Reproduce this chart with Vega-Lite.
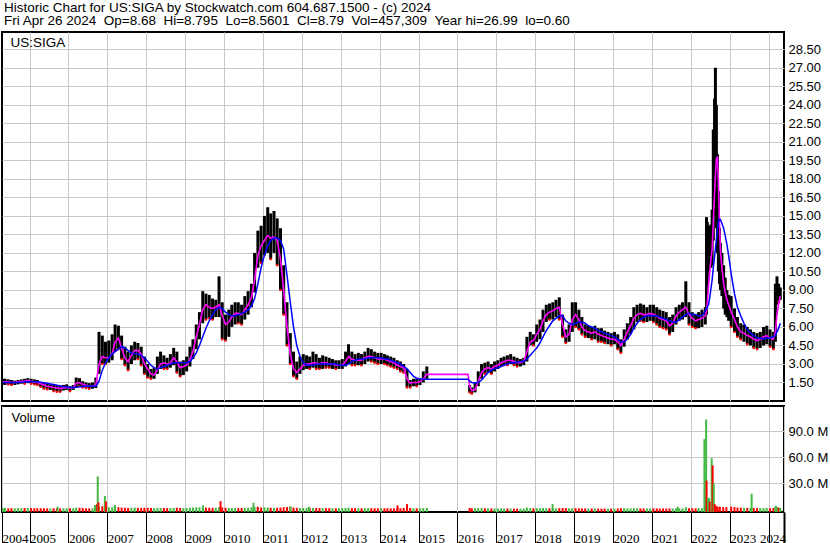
{
"$schema":"https://vega.github.io/schema/vega-lite/v6.json",
"padding":{"left":0,"top":1,"right":0,"bottom":0},
"autosize":{"type":"pad"},
"background":"white",
"config":{
 "font":"Liberation Sans",
 "view":{"stroke":"black","strokeWidth":2},
 "axis":{"labelFont":"Liberation Sans","labelColor":"#000","labelFontSize":13,"gridColor":"#c8c8c8","gridWidth":1,"gridOpacity":1,"titleFont":"Liberation Sans","titleColor":"#000","titleFontWeight":"normal"},
 "title":{"font":"Liberation Sans","color":"#000","fontWeight":"normal","fontSize":13.5}
},
"title":{"text":["Historic Chart for US:SIGA by Stockwatch.com 604.687.1500 - (c) 2024","Fri Apr 26 2024 \u00a0Op=8.68 \u00a0Hi=8.795 \u00a0Lo=8.5601 \u00a0Cl=8.79 \u00a0Vol=457,309 \u00a0Year hi=26.99 \u00a0lo=0.60"],"anchor":"start","frame":"group","fontSize":13.5,"lineHeight":13.3,"offset":3,"dx":2,"baseline":"top"},
"datasets":{
"p":[
{"d":"2004-04-25","h":1.8,"l":1.35,"m":1.55,"b":1.5,"v":1.4,"u":1},
{"d":"2004-05-15","h":1.8,"l":1.3,"m":1.55,"b":1.5,"v":1.5,"u":1},
{"d":"2004-06-15","h":1.75,"l":1.35,"m":1.55,"b":1.5,"v":1.2,"u":0},
{"d":"2004-07-15","h":1.7,"l":1.3,"m":1.5,"b":1.5,"v":1.3,"u":0},
{"d":"2004-08-15","h":1.65,"l":1.3,"m":1.5,"b":1.5,"v":1.2,"u":1},
{"d":"2004-09-15","h":1.7,"l":1.35,"m":1.55,"b":1.5,"v":1.4,"u":1},
{"d":"2004-10-15","h":1.75,"l":1.4,"m":1.6,"b":1.52,"v":1.3,"u":1},
{"d":"2004-11-15","h":1.8,"l":1.4,"m":1.6,"b":1.54,"v":1.5,"u":0},
{"d":"2004-12-15","h":1.85,"l":1.45,"m":1.65,"b":1.56,"v":1.6,"u":1},
{"d":"2005-01-15","h":1.8,"l":1.4,"m":1.6,"b":1.56,"v":1.4,"u":0},
{"d":"2005-02-15","h":1.75,"l":1.35,"m":1.55,"b":1.56,"v":1.3,"u":0},
{"d":"2005-03-15","h":1.7,"l":1.3,"m":1.5,"b":1.55,"v":1.2,"u":0},
{"d":"2005-04-15","h":1.55,"l":1.15,"m":1.4,"b":1.52,"v":1.3,"u":0},
{"d":"2005-05-15","h":1.45,"l":1.0,"m":1.3,"b":1.48,"v":1.2,"u":0},
{"d":"2005-06-15","h":1.4,"l":0.95,"m":1.2,"b":1.43,"v":1.1,"u":0},
{"d":"2005-07-15","h":1.35,"l":0.9,"m":1.15,"b":1.38,"v":1.0,"u":1},
{"d":"2005-08-15","h":1.3,"l":0.8,"m":1.1,"b":1.33,"v":1.2,"u":0},
{"d":"2005-09-15","h":1.3,"l":0.75,"m":1.05,"b":1.28,"v":1.3,"u":0},
{"d":"2005-10-15","h":1.25,"l":0.75,"m":1.0,"b":1.22,"v":1.1,"u":0},
{"d":"2005-11-15","h":1.3,"l":0.85,"m":1.05,"b":1.17,"v":1.2,"u":1},
{"d":"2005-12-15","h":1.35,"l":0.9,"m":1.1,"b":1.13,"v":1.3,"u":1},
{"d":"2006-01-15","h":1.2,"l":0.8,"m":1.05,"b":1.12,"v":1.2,"u":0},
{"d":"2006-02-15","h":1.3,"l":0.9,"m":1.1,"b":1.1,"v":1.3,"u":1},
{"d":"2006-03-15","h":1.9,"l":1.1,"m":1.45,"b":1.12,"v":2.0,"u":1},
{"d":"2006-04-15","h":1.85,"l":1.2,"m":1.5,"b":1.15,"v":1.8,"u":0},
{"d":"2006-05-15","h":1.6,"l":1.1,"m":1.35,"b":1.18,"v":1.5,"u":0},
{"d":"2006-06-15","h":1.5,"l":1.05,"m":1.28,"b":1.2,"v":1.2,"u":0},
{"d":"2006-07-15","h":1.45,"l":1.0,"m":1.22,"b":1.21,"v":1.1,"u":0},
{"d":"2006-08-15","h":1.5,"l":1.0,"m":1.2,"b":1.2,"v":1.2,"u":1},
{"d":"2006-09-15","h":1.9,"l":1.05,"m":1.3,"b":1.2,"v":2.5,"u":1},
{"d":"2006-10-15","h":5.6,"l":2.2,"m":3.0,"b":1.6,"v":3.0,"u":1},
{"d":"2006-11-15","h":5.3,"l":3.0,"m":3.6,"b":2.5,"v":3.5,"u":0},
{"d":"2006-12-15","h":4.8,"l":3.0,"m":3.5,"b":3.1,"v":3.0,"u":0},
{"d":"2007-01-15","h":4.9,"l":3.1,"m":3.5,"b":3.5,"v":2.5,"u":1},
{"d":"2007-02-15","h":5.4,"l":3.3,"m":3.8,"b":3.8,"v":2.2,"u":1},
{"d":"2007-03-15","h":6.2,"l":4.0,"m":4.8,"b":4.0,"v":2.8,"u":1},
{"d":"2007-04-15","h":6.1,"l":4.2,"m":5.1,"b":4.2,"v":2.4,"u":0},
{"d":"2007-05-15","h":5.3,"l":3.4,"m":4.3,"b":4.4,"v":2.0,"u":0},
{"d":"2007-06-15","h":4.4,"l":2.9,"m":3.5,"b":4.3,"v":1.8,"u":0},
{"d":"2007-07-15","h":4.0,"l":2.5,"m":3.2,"b":4.1,"v":1.6,"u":0},
{"d":"2007-08-15","h":4.5,"l":3.0,"m":3.7,"b":3.9,"v":1.8,"u":1},
{"d":"2007-09-15","h":4.8,"l":3.3,"m":4.1,"b":3.8,"v":2.0,"u":1},
{"d":"2007-10-15","h":4.7,"l":3.4,"m":4.1,"b":3.8,"v":1.7,"u":0},
{"d":"2007-11-15","h":4.4,"l":2.9,"m":3.8,"b":3.7,"v":1.6,"u":0},
{"d":"2007-12-15","h":3.6,"l":2.2,"m":3.0,"b":3.5,"v":1.8,"u":0},
{"d":"2008-01-15","h":3.0,"l":1.9,"m":2.6,"b":3.2,"v":1.7,"u":0},
{"d":"2008-02-15","h":2.6,"l":1.8,"m":2.2,"b":2.9,"v":1.5,"u":0},
{"d":"2008-03-15","h":2.7,"l":1.8,"m":2.1,"b":2.7,"v":1.4,"u":1},
{"d":"2008-04-15","h":3.6,"l":2.2,"m":2.5,"b":2.6,"v":1.8,"u":1},
{"d":"2008-05-15","h":4.0,"l":2.6,"m":3.0,"b":2.7,"v":1.6,"u":1},
{"d":"2008-06-15","h":3.7,"l":2.6,"m":3.1,"b":2.8,"v":1.5,"u":0},
{"d":"2008-07-15","h":3.5,"l":2.6,"m":3.0,"b":2.9,"v":1.4,"u":0},
{"d":"2008-08-15","h":3.8,"l":2.7,"m":3.1,"b":3.0,"v":1.5,"u":1},
{"d":"2008-09-15","h":4.3,"l":2.9,"m":3.5,"b":3.1,"v":1.6,"u":1},
{"d":"2008-10-15","h":4.0,"l":2.3,"m":3.2,"b":3.1,"v":1.8,"u":0},
{"d":"2008-11-15","h":3.2,"l":2.0,"m":2.7,"b":3.1,"v":1.5,"u":0},
{"d":"2008-12-15","h":3.3,"l":2.1,"m":2.8,"b":3.1,"v":1.4,"u":1},
{"d":"2009-01-15","h":3.6,"l":2.4,"m":2.9,"b":3.1,"v":1.5,"u":1},
{"d":"2009-02-15","h":4.4,"l":2.8,"m":3.4,"b":3.2,"v":1.8,"u":1},
{"d":"2009-03-15","h":5.0,"l":3.4,"m":4.0,"b":3.5,"v":2.0,"u":1},
{"d":"2009-04-15","h":6.2,"l":4.2,"m":5.2,"b":3.9,"v":2.2,"u":1},
{"d":"2009-05-15","h":7.2,"l":5.0,"m":6.2,"b":4.5,"v":2.4,"u":1},
{"d":"2009-06-15","h":8.9,"l":6.3,"m":7.4,"b":5.2,"v":2.5,"u":1},
{"d":"2009-07-15","h":8.7,"l":6.6,"m":7.8,"b":5.9,"v":2.0,"u":0},
{"d":"2009-08-15","h":8.6,"l":6.7,"m":7.6,"b":6.5,"v":1.8,"u":0},
{"d":"2009-09-15","h":8.3,"l":6.6,"m":7.5,"b":7.0,"v":1.7,"u":0},
{"d":"2009-10-15","h":8.2,"l":6.8,"m":7.6,"b":7.4,"v":1.8,"u":1},
{"d":"2009-11-15","h":10.1,"l":6.8,"m":7.8,"b":7.6,"v":2.5,"u":1},
{"d":"2009-12-15","h":8.0,"l":5.0,"m":6.9,"b":7.5,"v":2.2,"u":0},
{"d":"2010-01-15","h":7.0,"l":4.9,"m":6.2,"b":7.2,"v":1.8,"u":0},
{"d":"2010-02-15","h":7.4,"l":5.2,"m":6.4,"b":7.0,"v":1.6,"u":1},
{"d":"2010-03-15","h":7.8,"l":6.0,"m":6.8,"b":6.9,"v":1.5,"u":1},
{"d":"2010-04-15","h":8.0,"l":6.2,"m":7.1,"b":6.9,"v":1.6,"u":1},
{"d":"2010-05-15","h":8.0,"l":6.3,"m":7.1,"b":7.0,"v":1.4,"u":0},
{"d":"2010-06-15","h":7.8,"l":6.2,"m":7.0,"b":7.1,"v":1.5,"u":0},
{"d":"2010-07-15","h":8.5,"l":6.6,"m":7.4,"b":7.2,"v":1.6,"u":1},
{"d":"2010-08-15","h":8.9,"l":7.0,"m":7.8,"b":7.4,"v":1.8,"u":1},
{"d":"2010-09-15","h":9.5,"l":7.6,"m":8.4,"b":7.7,"v":2.2,"u":1},
{"d":"2010-10-15","h":12.0,"l":8.8,"m":9.8,"b":8.3,"v":2.6,"u":1},
{"d":"2010-11-15","h":13.8,"l":10.8,"m":11.8,"b":9.5,"v":2.4,"u":1},
{"d":"2010-12-15","h":14.2,"l":11.2,"m":12.6,"b":10.8,"v":2.0,"u":0},
{"d":"2011-01-15","h":15.0,"l":11.8,"m":13.0,"b":11.8,"v":2.2,"u":1},
{"d":"2011-02-15","h":15.7,"l":12.0,"m":13.4,"b":12.6,"v":2.0,"u":1},
{"d":"2011-03-15","h":15.2,"l":11.5,"m":13.2,"b":13.0,"v":1.8,"u":0},
{"d":"2011-04-15","h":15.4,"l":12.0,"m":13.3,"b":13.2,"v":1.7,"u":1},
{"d":"2011-05-15","h":14.8,"l":11.0,"m":13.0,"b":13.2,"v":1.8,"u":0},
{"d":"2011-06-15","h":14.0,"l":9.0,"m":11.5,"b":13.0,"v":2.0,"u":0},
{"d":"2011-07-15","h":11.0,"l":7.0,"m":9.0,"b":12.3,"v":2.4,"u":0},
{"d":"2011-08-15","h":8.0,"l":4.5,"m":6.0,"b":10.2,"v":2.6,"u":0},
{"d":"2011-09-15","h":5.5,"l":3.0,"m":3.8,"b":8.0,"v":2.5,"u":0},
{"d":"2011-10-15","h":4.0,"l":2.0,"m":2.6,"b":6.0,"v":2.0,"u":0},
{"d":"2011-11-15","h":3.2,"l":1.8,"m":2.3,"b":4.5,"v":1.8,"u":0},
{"d":"2011-12-15","h":3.6,"l":2.2,"m":2.6,"b":3.6,"v":1.6,"u":1},
{"d":"2012-01-15","h":3.8,"l":2.5,"m":2.9,"b":3.1,"v":1.6,"u":1},
{"d":"2012-02-15","h":3.7,"l":2.6,"m":3.0,"b":2.9,"v":1.5,"u":1},
{"d":"2012-03-15","h":3.6,"l":2.6,"m":3.0,"b":2.9,"v":1.5,"u":0},
{"d":"2012-04-15","h":4.0,"l":2.7,"m":3.1,"b":2.9,"v":1.7,"u":1},
{"d":"2012-05-15","h":3.8,"l":2.6,"m":3.1,"b":3.0,"v":1.5,"u":0},
{"d":"2012-06-15","h":3.5,"l":2.6,"m":3.0,"b":3.0,"v":1.4,"u":0},
{"d":"2012-07-15","h":3.7,"l":2.6,"m":3.1,"b":3.0,"v":1.5,"u":1},
{"d":"2012-08-15","h":3.6,"l":2.7,"m":3.1,"b":3.0,"v":1.4,"u":0},
{"d":"2012-09-15","h":3.5,"l":2.7,"m":3.0,"b":3.0,"v":1.3,"u":0},
{"d":"2012-10-15","h":3.4,"l":2.6,"m":3.0,"b":3.0,"v":1.3,"u":1},
{"d":"2012-11-15","h":3.3,"l":2.6,"m":2.9,"b":3.0,"v":1.2,"u":0},
{"d":"2012-12-15","h":3.3,"l":2.6,"m":2.9,"b":2.9,"v":1.2,"u":1},
{"d":"2013-01-15","h":3.4,"l":2.6,"m":2.9,"b":2.9,"v":1.3,"u":1},
{"d":"2013-02-15","h":4.0,"l":2.8,"m":3.2,"b":2.9,"v":1.6,"u":1},
{"d":"2013-03-15","h":4.6,"l":3.0,"m":3.6,"b":3.0,"v":1.8,"u":1},
{"d":"2013-04-15","h":4.0,"l":2.9,"m":3.4,"b":3.2,"v":1.4,"u":0},
{"d":"2013-05-15","h":3.8,"l":2.9,"m":3.3,"b":3.3,"v":1.3,"u":0},
{"d":"2013-06-15","h":3.9,"l":2.9,"m":3.3,"b":3.4,"v":1.3,"u":1},
{"d":"2013-07-15","h":3.8,"l":2.9,"m":3.3,"b":3.4,"v":1.2,"u":0},
{"d":"2013-08-15","h":4.0,"l":3.0,"m":3.5,"b":3.4,"v":1.3,"u":1},
{"d":"2013-09-15","h":4.3,"l":3.2,"m":3.6,"b":3.5,"v":1.4,"u":1},
{"d":"2013-10-15","h":4.2,"l":3.2,"m":3.6,"b":3.5,"v":1.3,"u":0},
{"d":"2013-11-15","h":4.0,"l":3.1,"m":3.5,"b":3.5,"v":1.2,"u":0},
{"d":"2013-12-15","h":3.9,"l":3.0,"m":3.4,"b":3.5,"v":1.2,"u":0},
{"d":"2014-01-15","h":3.9,"l":3.0,"m":3.4,"b":3.5,"v":1.3,"u":1},
{"d":"2014-02-15","h":3.8,"l":3.0,"m":3.4,"b":3.4,"v":1.2,"u":0},
{"d":"2014-03-15","h":3.7,"l":2.9,"m":3.3,"b":3.4,"v":1.2,"u":0},
{"d":"2014-04-15","h":3.6,"l":2.8,"m":3.2,"b":3.3,"v":1.1,"u":0},
{"d":"2014-05-15","h":3.5,"l":2.7,"m":3.1,"b":3.2,"v":1.2,"u":0},
{"d":"2014-06-15","h":3.3,"l":2.6,"m":2.9,"b":3.1,"v":1.4,"u":0},
{"d":"2014-07-15","h":3.2,"l":2.4,"m":2.8,"b":3.0,"v":1.3,"u":0},
{"d":"2014-08-15","h":3.0,"l":2.3,"m":2.7,"b":2.8,"v":1.5,"u":0},
{"d":"2014-09-15","h":2.6,"l":1.1,"m":1.8,"b":2.6,"v":2.5,"u":0},
{"d":"2014-10-15","h":1.7,"l":1.1,"m":1.45,"b":2.3,"v":1.5,"u":0},
{"d":"2014-11-15","h":1.8,"l":1.2,"m":1.5,"b":2.0,"v":1.2,"u":1},
{"d":"2014-12-15","h":1.8,"l":1.2,"m":1.5,"b":1.85,"v":1.1,"u":0},
{"d":"2015-01-15","h":1.8,"l":1.3,"m":1.55,"b":1.8,"v":1.2,"u":1},
{"d":"2015-02-15","h":2.4,"l":1.5,"m":1.8,"b":1.78,"v":1.5,"u":1},
{"d":"2015-03-20","h":2.8,"l":1.8,"m":2.16,"b":1.76,"v":1.6,"u":1},
{"d":"2016-04-10","m":2.16,"b":1.76},
{"d":"2016-04-25","h":1.3,"l":0.7,"m":1.2,"b":1.6,"v":1.5,"u":0},
{"d":"2016-05-15","h":1.1,"l":0.6,"m":0.85,"b":1.5,"v":1.2,"u":0},
{"d":"2016-06-15","h":1.5,"l":0.7,"m":0.9,"b":1.45,"v":1.3,"u":1},
{"d":"2016-07-15","h":2.4,"l":1.2,"m":1.6,"b":1.5,"v":1.6,"u":1},
{"d":"2016-08-15","h":3.0,"l":1.8,"m":2.3,"b":1.7,"v":1.5,"u":1},
{"d":"2016-09-15","h":3.1,"l":2.2,"m":2.6,"b":2.0,"v":1.2,"u":0},
{"d":"2016-10-15","h":3.2,"l":2.3,"m":2.7,"b":2.3,"v":1.1,"u":1},
{"d":"2016-11-15","h":3.0,"l":2.2,"m":2.6,"b":2.5,"v":1.0,"u":0},
{"d":"2016-12-15","h":3.2,"l":2.4,"m":2.8,"b":2.6,"v":1.0,"u":1},
{"d":"2017-01-15","h":3.3,"l":2.6,"m":2.9,"b":2.7,"v":1.0,"u":1},
{"d":"2017-02-15","h":3.5,"l":2.8,"m":3.1,"b":2.8,"v":1.0,"u":1},
{"d":"2017-03-15","h":3.6,"l":2.9,"m":3.2,"b":2.9,"v":0.9,"u":1},
{"d":"2017-04-15","h":3.7,"l":2.9,"m":3.3,"b":3.0,"v":1.0,"u":0},
{"d":"2017-05-15","h":3.8,"l":3.0,"m":3.3,"b":3.1,"v":0.9,"u":1},
{"d":"2017-06-15","h":3.6,"l":2.9,"m":3.2,"b":3.1,"v":0.8,"u":0},
{"d":"2017-07-15","h":3.5,"l":2.8,"m":3.1,"b":3.15,"v":0.8,"u":0},
{"d":"2017-08-15","h":3.4,"l":2.8,"m":3.1,"b":3.2,"v":0.8,"u":1},
{"d":"2017-09-15","h":3.5,"l":2.9,"m":3.2,"b":3.2,"v":0.9,"u":1},
{"d":"2017-10-15","h":5.2,"l":3.2,"m":4.0,"b":3.4,"v":2.0,"u":1},
{"d":"2017-11-15","h":5.6,"l":4.5,"m":4.8,"b":3.7,"v":1.5,"u":1},
{"d":"2017-12-15","h":5.4,"l":4.5,"m":4.9,"b":4.0,"v":1.2,"u":0},
{"d":"2018-01-15","h":6.2,"l":4.8,"m":5.4,"b":4.3,"v":1.4,"u":1},
{"d":"2018-02-15","h":6.6,"l":5.0,"m":5.8,"b":4.7,"v":1.3,"u":1},
{"d":"2018-03-15","h":7.4,"l":5.6,"m":6.5,"b":5.2,"v":1.5,"u":1},
{"d":"2018-04-15","h":7.8,"l":6.4,"m":7.0,"b":5.7,"v":1.3,"u":1},
{"d":"2018-05-15","h":7.9,"l":6.6,"m":7.2,"b":6.1,"v":1.2,"u":0},
{"d":"2018-06-15","h":8.0,"l":6.6,"m":7.3,"b":6.5,"v":1.4,"u":1},
{"d":"2018-07-15","h":8.2,"l":6.8,"m":7.5,"b":6.7,"v":1.2,"u":1},
{"d":"2018-08-15","h":8.4,"l":6.6,"m":7.6,"b":6.9,"v":1.3,"u":0},
{"d":"2018-09-15","h":7.0,"l":5.2,"m":6.2,"b":6.9,"v":1.5,"u":0},
{"d":"2018-10-15","h":5.8,"l":4.7,"m":5.2,"b":6.5,"v":1.4,"u":0},
{"d":"2018-11-15","h":6.2,"l":4.8,"m":5.4,"b":6.3,"v":1.2,"u":1},
{"d":"2018-12-15","h":8.0,"l":5.6,"m":6.6,"b":6.2,"v":1.4,"u":1},
{"d":"2019-01-15","h":8.0,"l":6.0,"m":7.0,"b":6.3,"v":1.3,"u":0},
{"d":"2019-02-15","h":7.4,"l":5.8,"m":6.6,"b":6.4,"v":1.1,"u":0},
{"d":"2019-03-15","h":6.8,"l":5.4,"m":6.0,"b":6.4,"v":1.0,"u":0},
{"d":"2019-04-15","h":6.2,"l":5.2,"m":5.7,"b":6.3,"v":1.0,"u":0},
{"d":"2019-05-15","h":6.1,"l":5.1,"m":5.6,"b":6.1,"v":0.9,"u":1},
{"d":"2019-06-15","h":6.0,"l":5.0,"m":5.5,"b":6.0,"v":0.9,"u":0},
{"d":"2019-07-15","h":6.1,"l":5.0,"m":5.6,"b":5.9,"v":0.9,"u":1},
{"d":"2019-08-15","h":5.9,"l":4.8,"m":5.4,"b":5.7,"v":0.9,"u":0},
{"d":"2019-09-15","h":5.9,"l":4.8,"m":5.3,"b":5.6,"v":0.8,"u":0},
{"d":"2019-10-15","h":5.7,"l":4.7,"m":5.2,"b":5.5,"v":0.8,"u":0},
{"d":"2019-11-15","h":5.6,"l":4.6,"m":5.1,"b":5.4,"v":0.8,"u":1},
{"d":"2019-12-15","h":5.5,"l":4.5,"m":5.0,"b":5.3,"v":0.8,"u":0},
{"d":"2020-01-15","h":5.6,"l":4.6,"m":5.0,"b":5.2,"v":0.9,"u":1},
{"d":"2020-02-15","h":5.4,"l":4.2,"m":4.8,"b":5.0,"v":1.0,"u":0},
{"d":"2020-03-15","h":5.0,"l":3.9,"m":4.5,"b":4.8,"v":1.3,"u":0},
{"d":"2020-04-15","h":5.8,"l":4.4,"m":5.0,"b":4.8,"v":1.2,"u":1},
{"d":"2020-05-15","h":6.3,"l":5.0,"m":5.6,"b":5.0,"v":1.1,"u":1},
{"d":"2020-06-15","h":6.8,"l":5.4,"m":6.1,"b":5.4,"v":1.2,"u":1},
{"d":"2020-07-15","h":7.6,"l":5.8,"m":6.7,"b":5.9,"v":1.4,"u":1},
{"d":"2020-08-15","h":7.8,"l":6.4,"m":7.0,"b":6.3,"v":1.1,"u":1},
{"d":"2020-09-15","h":7.9,"l":6.5,"m":7.1,"b":6.6,"v":1.0,"u":0},
{"d":"2020-10-15","h":7.8,"l":6.4,"m":7.0,"b":6.8,"v":1.0,"u":0},
{"d":"2020-11-15","h":7.6,"l":6.4,"m":7.0,"b":6.9,"v":0.9,"u":1},
{"d":"2020-12-15","h":7.8,"l":6.5,"m":7.1,"b":6.9,"v":1.0,"u":1},
{"d":"2021-01-15","h":7.8,"l":6.4,"m":7.0,"b":6.9,"v":1.0,"u":0},
{"d":"2021-02-15","h":7.6,"l":6.2,"m":6.9,"b":6.9,"v":1.0,"u":0},
{"d":"2021-03-15","h":7.4,"l":6.0,"m":6.7,"b":6.8,"v":0.9,"u":0},
{"d":"2021-04-15","h":7.3,"l":5.9,"m":6.6,"b":6.7,"v":0.9,"u":0},
{"d":"2021-05-15","h":7.2,"l":5.8,"m":6.5,"b":6.6,"v":0.9,"u":0},
{"d":"2021-06-15","h":6.8,"l":5.4,"m":6.1,"b":6.5,"v":1.0,"u":0},
{"d":"2021-07-15","h":7.0,"l":5.6,"m":6.3,"b":6.4,"v":1.0,"u":1},
{"d":"2021-08-15","h":7.6,"l":6.2,"m":6.9,"b":6.4,"v":1.1,"u":1},
{"d":"2021-09-15","h":7.8,"l":6.5,"m":7.2,"b":6.6,"v":1.0,"u":1},
{"d":"2021-10-15","h":8.0,"l":6.6,"m":7.4,"b":6.8,"v":1.1,"u":1},
{"d":"2021-11-15","h":9.7,"l":6.8,"m":7.6,"b":7.0,"v":2.5,"u":1},
{"d":"2021-12-15","h":8.0,"l":6.2,"m":7.0,"b":7.1,"v":1.2,"u":0},
{"d":"2022-01-15","h":7.2,"l":6.0,"m":6.7,"b":7.0,"v":1.2,"u":0},
{"d":"2022-02-15","h":7.0,"l":5.9,"m":6.5,"b":7.0,"v":1.1,"u":0},
{"d":"2022-03-15","h":7.2,"l":5.9,"m":6.6,"b":6.9,"v":1.5,"u":1},
{"d":"2022-04-15","h":7.4,"l":6.0,"m":6.7,"b":6.9,"v":1.3,"u":1},
{"d":"2022-05-17","h":7.6,"l":6.2,"m":6.9,"b":7.3,"v":2.0,"u":1},
{"d":"2022-05-28","h":14.9,"l":7.0,"m":7.3,"b":7.5,"v":3.0,"u":1},
{"d":"2022-06-05","h":14.5,"l":9.0,"m":8.0,"b":7.6},
{"d":"2022-06-16","h":14.2,"l":10.5,"m":9.3,"b":7.8},
{"d":"2022-06-28","h":14.0,"l":10.8,"m":10.5,"b":8.4},
{"d":"2022-07-09","h":14.3,"l":10.8,"m":11.5,"b":9.1},
{"d":"2022-07-20","h":15.5,"l":11.0,"m":12.3,"b":9.8},
{"d":"2022-07-31","h":22.0,"l":13.0,"m":14.5,"b":10.8},
{"d":"2022-08-12","h":24.5,"l":15.0,"m":16.8,"b":11.7},
{"d":"2022-08-20","h":27.0,"l":16.5,"m":18.3,"b":12.3},
{"d":"2022-08-29","h":24.0,"l":14.0,"m":19.6,"b":13.1},
{"d":"2022-09-08","h":20.0,"l":12.0,"m":19.8,"b":13.9},
{"d":"2022-09-17","h":17.0,"l":10.5,"m":17.8,"b":14.5},
{"d":"2022-09-27","h":14.0,"l":9.5,"m":14.5,"b":14.7},
{"d":"2022-10-06","h":12.8,"l":9.0,"m":12.2,"b":14.7},
{"d":"2022-10-20","h":12.0,"l":8.5,"m":10.8,"b":14.4},
{"d":"2022-11-05","h":11.0,"l":7.5,"m":9.5,"b":14.0},
{"d":"2022-11-20","h":10.0,"l":7.0,"m":8.8,"b":13.4},
{"d":"2022-12-06","h":9.0,"l":6.8,"m":8.2,"b":12.7},
{"d":"2022-12-22","h":8.6,"l":6.5,"m":7.8,"b":11.8},
{"d":"2023-01-15","h":8.5,"l":6.0,"m":7.2,"b":10.3,"v":3.0,"u":0},
{"d":"2023-02-15","h":7.5,"l":5.6,"m":6.6,"b":8.7,"v":2.5,"u":0},
{"d":"2023-03-15","h":6.8,"l":5.2,"m":6.0,"b":7.6,"v":2.0,"u":0},
{"d":"2023-04-15","h":6.3,"l":5.0,"m":5.6,"b":6.9,"v":2.0,"u":0},
{"d":"2023-05-15","h":6.2,"l":4.8,"m":5.5,"b":6.3,"v":1.8,"u":1},
{"d":"2023-06-15","h":6.0,"l":4.6,"m":5.3,"b":5.8,"v":1.6,"u":0},
{"d":"2023-07-15","h":5.8,"l":4.5,"m":5.2,"b":5.5,"v":1.8,"u":1},
{"d":"2023-08-15","h":5.6,"l":4.3,"m":5.0,"b":5.3,"v":1.5,"u":0},
{"d":"2023-09-15","h":5.5,"l":4.2,"m":4.9,"b":5.1,"v":1.4,"u":0},
{"d":"2023-10-15","h":5.6,"l":4.3,"m":5.0,"b":5.1,"v":1.4,"u":1},
{"d":"2023-11-15","h":6.0,"l":4.5,"m":5.2,"b":5.0,"v":1.5,"u":1},
{"d":"2023-12-15","h":6.1,"l":4.6,"m":5.3,"b":5.1,"v":1.6,"u":1},
{"d":"2024-01-15","h":5.8,"l":4.4,"m":5.1,"b":5.1,"v":1.4,"u":0},
{"d":"2024-02-15","h":5.6,"l":4.2,"m":5.0,"b":5.2,"v":1.5,"u":0},
{"d":"2024-03-05","h":9.5,"l":4.8,"m":5.6,"b":5.3,"v":3.0,"u":1},
{"d":"2024-03-20","h":10.1,"l":7.8,"m":7.0,"b":5.6,"v":2.5,"u":1},
{"d":"2024-04-05","h":9.5,"l":8.0,"m":7.9,"b":5.9,"v":2.0,"u":0},
{"d":"2024-04-20","h":9.2,"l":8.2,"m":8.5,"b":6.3,"v":1.5,"u":1}
],
"s":[
{"d":"2005-09-21","v":3,"u":1},
{"d":"2006-09-07","v":5,"u":1},
{"d":"2006-09-26","v":6,"u":0},
{"d":"2006-10-03","v":38,"u":1},
{"d":"2006-10-10","v":8,"u":0},
{"d":"2006-12-09","v":15.5,"u":1},
{"d":"2006-12-19","v":9,"u":0},
{"d":"2007-03-12","v":5,"u":1},
{"d":"2009-06-18","v":4.5,"u":1},
{"d":"2009-11-29","v":9.5,"u":0},
{"d":"2010-10-04","v":7.5,"u":1},
{"d":"2010-11-13","v":3,"u":0},
{"d":"2011-09-17","v":3.5,"u":1},
{"d":"2012-03-08","v":3,"u":1},
{"d":"2014-06-18","v":4.5,"u":0},
{"d":"2014-09-15","v":6,"u":0},
{"d":"2018-06-13","v":6,"u":1},
{"d":"2021-09-01","v":3,"u":1},
{"d":"2022-05-09","v":81,"u":1},
{"d":"2022-05-25","v":103.6,"u":1},
{"d":"2022-05-29","v":33,"u":0},
{"d":"2022-06-11","v":13,"u":1},
{"d":"2022-06-20","v":13,"u":1},
{"d":"2022-06-28","v":9,"u":0},
{"d":"2022-07-16","v":59,"u":1},
{"d":"2022-07-25","v":50.5,"u":0},
{"d":"2022-08-04","v":30,"u":1},
{"d":"2022-08-13","v":6,"u":0},
{"d":"2022-08-24","v":4,"u":0},
{"d":"2022-09-10","v":3,"u":0},
{"d":"2022-10-01","v":3,"u":0},
{"d":"2022-11-01","v":2.5,"u":0},
{"d":"2022-12-01","v":2.5,"u":0},
{"d":"2023-07-26","v":18,"u":1},
{"d":"2024-03-10","v":4,"u":1}
]
},
"spacing":3,
"resolve":{"scale":{"x":"independent","y":"independent"}},
"vconcat":[
 {
  "width":782,"height":369,
  "data":{"name":"p"},
  "encoding":{"x":{"field":"d","type":"temporal","scale":{"domain":[{"year":2004,"month":4,"date":17},{"year":2024,"month":5,"date":25}]},
   "axis":{"orient":"top","values":[{"year":2005,"month":1,"date":1},{"year":2006,"month":1,"date":1},{"year":2007,"month":1,"date":1},{"year":2008,"month":1,"date":1},{"year":2009,"month":1,"date":1},{"year":2010,"month":1,"date":1},{"year":2011,"month":1,"date":1},{"year":2012,"month":1,"date":1},{"year":2013,"month":1,"date":1},{"year":2014,"month":1,"date":1},{"year":2015,"month":1,"date":1},{"year":2016,"month":1,"date":1},{"year":2017,"month":1,"date":1},{"year":2018,"month":1,"date":1},{"year":2019,"month":1,"date":1},{"year":2020,"month":1,"date":1},{"year":2021,"month":1,"date":1},{"year":2022,"month":1,"date":1},{"year":2023,"month":1,"date":1},{"year":2024,"month":1,"date":1}],
   "tickCount":40,"grid":true,"labels":false,"ticks":false,"domain":false,
   "title":"US:SIGA","titleX":8,"titleY":14,"titleAlign":"left","titleAnchor":"start","titleBaseline":"alphabetic","titleFontSize":13.5,"titlePadding":0}}},
  "layer":[
   {"mark":{"type":"rule","color":"#000","strokeWidth":3,"clip":true},
    "encoding":{"y":{"field":"l","type":"quantitative","scale":{"domain":[0,29.9],"nice":false,"zero":false},
      "axis":{"orient":"right","values":[1.5,3,4.5,6,7.5,9,10.5,12,13.5,15,16.5,18,19.5,21,22.5,24,25.5,27,28.5],"tickCount":40,"format":".2f","grid":true,"ticks":false,"domain":false,"labelPadding":4,"labelOverlap":false,"title":null}},
     "y2":{"field":"h"}}},
   {"transform":[{"filter":"datum.u == 0"}],
    "mark":{"type":"point","shape":"square","size":5,"filled":true,"color":"#ff0000","opacity":1,"clip":true},
    "encoding":{"y":{"field":"l","type":"quantitative"}}},
   {"mark":{"type":"line","color":"#ff00ff","strokeWidth":1.6,"clip":true},
    "encoding":{"y":{"field":"m","type":"quantitative"}}},
   {"mark":{"type":"line","color":"#0000ff","strokeWidth":1.5,"clip":true},
    "encoding":{"y":{"field":"b","type":"quantitative"}}},
   {"data":{"values":[{}]},
    "mark":{"type":"rule","color":"#000","strokeWidth":2,"clip":false},
    "encoding":{"x":{"datum":{"year":2004,"month":4,"date":17}},"x2":{"datum":{"year":2025,"month":9,"date":1}},"y":{"datum":29.9}}}
  ]
 },
 {
  "width":782,"height":106,
  "encoding":{
   "x":{"field":"d","type":"temporal","scale":{"domain":[{"year":2004,"month":4,"date":17},{"year":2024,"month":5,"date":25}]},
    "axis":{"values":[{"year":2004,"month":4,"date":17},{"year":2005,"month":1,"date":1},{"year":2006,"month":1,"date":1},{"year":2007,"month":1,"date":1},{"year":2008,"month":1,"date":1},{"year":2009,"month":1,"date":1},{"year":2010,"month":1,"date":1},{"year":2011,"month":1,"date":1},{"year":2012,"month":1,"date":1},{"year":2013,"month":1,"date":1},{"year":2014,"month":1,"date":1},{"year":2015,"month":1,"date":1},{"year":2016,"month":1,"date":1},{"year":2017,"month":1,"date":1},{"year":2018,"month":1,"date":1},{"year":2019,"month":1,"date":1},{"year":2020,"month":1,"date":1},{"year":2021,"month":1,"date":1},{"year":2022,"month":1,"date":1},{"year":2023,"month":1,"date":1},{"year":2024,"month":1,"date":1},{"year":2024,"month":5,"date":25}],
     "tickCount":40,"labelExpr":"year(datum.value) == 2024 && month(datum.value) == 4 ? '' : timeFormat(datum.value, '%Y')","grid":true,"ticks":true,"tickSize":34,"tickColor":"#000",
     "tickWidth":{"condition":{"test":"year(datum.value) == 2024 && month(datum.value) == 4","value":2},"value":1},
     "domain":false,"labelAlign":"left","labelBaseline":"alphabetic","labelPadding":-4,"labelFont":"Liberation Sans Narrow","labelFontSize":13,
     "labelOffset":{"condition":{"test":"year(datum.value) == 2024","value":-9},"value":0},
     "labelFlush":false,"labelOverlap":false,"labelBound":false,"title":null}},
   "y":{"field":"v","type":"quantitative","scale":{"domain":[-3.1,119.2],"nice":false,"zero":false},
    "axis":{"orient":"right","values":[30,60,90],"tickCount":20,"labelExpr":"format(datum.value,'.1f') + ' M'","grid":true,"ticks":false,"domain":false,"labelPadding":4,"labelOverlap":false,
     "title":"Volume","titleAngle":0,"titleX":-773,"titleY":15,"titleAlign":"left","titleAnchor":"start","titleBaseline":"alphabetic","titleFontSize":13,"titlePadding":0}},
   "y2":{"datum":-3.1},
   "color":{"field":"u","type":"nominal","scale":{"domain":[0,1],"range":["#ff0000","#44b944"]},"legend":null}
  },
  "layer":[
   {"data":{"name":"p"},"mark":{"type":"rule","strokeWidth":2,"clip":true}},
   {"data":{"name":"s"},"mark":{"type":"rule","strokeWidth":2,"clip":true}}
  ]
 }
]
}
